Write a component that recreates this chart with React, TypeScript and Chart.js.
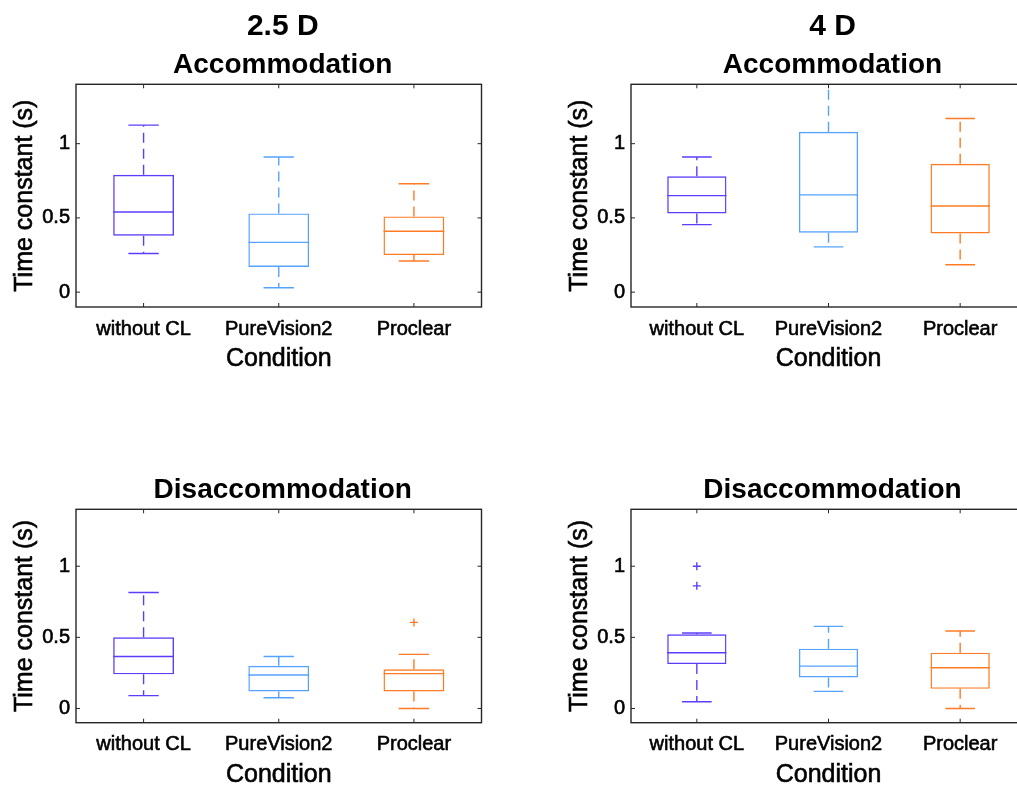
import React, { useEffect, useRef } from 'react';
import { Chart, registerables } from 'chart.js';

Chart.register(...registerables);

const FONT = '"Liberation Sans", Arial, Helvetica, sans-serif';

const categories = ['without CL', 'PureVision2', 'Proclear'];
const yTickValues = [0, 0.5, 1];
const yMin = -0.1;
const yMax = 1.4;
const xAxisLabel = 'Condition';
const yAxisLabel = 'Time constant (s)';
const boxColors = ['#5c3cff', '#55a3ff', '#ff7a24'];

// Accommodation, 2.5 D
const acc25Lower = [0.26, 0.03, 0.21];
const acc25Q1 = [0.38, 0.17, 0.25];
const acc25Median = [0.54, 0.335, 0.41];
const acc25Q3 = [0.79, 0.53, 0.51];
const acc25Upper = [1.125, 0.91, 0.73];
const acc25Outliers: number[][] = [[], [], []];

// Accommodation, 4 D
const acc4Lower = [0.455, 0.305, 0.185];
const acc4Q1 = [0.53, 0.4, 0.395];
const acc4Median = [0.65, 0.655, 0.58];
const acc4Q3 = [0.78, 1.08, 0.865];
const acc4Upper = [0.91, 1.55, 1.17];
const acc4Outliers: number[][] = [[], [], []];

// Disaccommodation, 2.5 D
const dis25Lower = [0.09, 0.075, 0.0];
const dis25Q1 = [0.24, 0.12, 0.12];
const dis25Median = [0.365, 0.235, 0.245];
const dis25Q3 = [0.5, 0.3, 0.275];
const dis25Upper = [0.815, 0.365, 0.38];
const dis25Outliers: number[][] = [[], [], [0.605]];

// Disaccommodation, 4 D
const dis4Lower = [0.047, 0.12, 0.0];
const dis4Q1 = [0.312, 0.218, 0.138];
const dis4Median = [0.392, 0.298, 0.286];
const dis4Q3 = [0.521, 0.42, 0.392];
const dis4Upper = [0.531, 0.577, 0.545];
const dis4Outliers: number[][] = [[1.0, 0.862], [], []];

const LINE_W = 1.4;
const Y_AXIS_W = 76;
const X_AXIS_H = 67;

type Stats = {
  lower: number[];
  q1: number[];
  median: number[];
  q3: number[];
  upper: number[];
  outliers: number[][];
};

type PanelSpec = {
  id: string;
  canvas: { x: number; y: number; w: number; h: number };
  area: { l: number; t: number; r: number; b: number };
  titles: string[];
  stats: Stats;
};

const panels: PanelSpec[] = [
  {
    id: 'acc25',
    canvas: { x: 0, y: 0, w: 508, h: 395 },
    area: { l: 76, t: 84.3, r: 481.5, b: 307 },
    titles: ['2.5 D', 'Accommodation'],
    stats: { lower: acc25Lower, q1: acc25Q1, median: acc25Median, q3: acc25Q3, upper: acc25Upper, outliers: acc25Outliers },
  },
  {
    id: 'acc4',
    canvas: { x: 555, y: 0, w: 490, h: 395 },
    area: { l: 631, t: 84.3, r: 1026, b: 307 },
    titles: ['4 D', 'Accommodation'],
    stats: { lower: acc4Lower, q1: acc4Q1, median: acc4Median, q3: acc4Q3, upper: acc4Upper, outliers: acc4Outliers },
  },
  {
    id: 'dis25',
    canvas: { x: 0, y: 395, w: 508, h: 410 },
    area: { l: 76, t: 509.3, r: 481.5, b: 722.7 },
    titles: ['Disaccommodation'],
    stats: { lower: dis25Lower, q1: dis25Q1, median: dis25Median, q3: dis25Q3, upper: dis25Upper, outliers: dis25Outliers },
  },
  {
    id: 'dis4',
    canvas: { x: 555, y: 395, w: 490, h: 410 },
    area: { l: 631, t: 509.3, r: 1026, b: 722.7 },
    titles: ['Disaccommodation'],
    stats: { lower: dis4Lower, q1: dis4Q1, median: dis4Median, q3: dis4Q3, upper: dis4Upper, outliers: dis4Outliers },
  },
];

function strokeLine(ctx: CanvasRenderingContext2D, x1: number, y1: number, x2: number, y2: number) {
  ctx.beginPath();
  ctx.moveTo(x1, y1);
  ctx.lineTo(x2, y2);
  ctx.stroke();
}

// Medians, whiskers and caps drawn over the box outlines
function boxPartsPlugin(stats: Stats) {
  return {
    id: 'boxParts',
    afterDatasetsDraw(chart: any) {
      const { ctx, chartArea: a, scales } = chart;
      const x = scales.x;
      const y = scales.y;
      const bars = chart.getDatasetMeta(0).data;
      ctx.save();
      ctx.beginPath();
      ctx.rect(a.left, a.top, a.right - a.left, a.bottom - a.top);
      ctx.clip();
      ctx.lineWidth = LINE_W;
      bars.forEach((bar: any, i: number) => {
        const cx = x.getPixelForValue(i);
        const half = bar.width / 2;
        const capHalf = half / 2;
        const yMed = y.getPixelForValue(stats.median[i]);
        const yQ1 = y.getPixelForValue(stats.q1[i]);
        const yQ3 = y.getPixelForValue(stats.q3[i]);
        const yLo = y.getPixelForValue(stats.lower[i]);
        const yHi = y.getPixelForValue(stats.upper[i]);
        ctx.strokeStyle = boxColors[i];
        ctx.setLineDash([]);
        strokeLine(ctx, cx - half, yMed, cx + half, yMed);
        strokeLine(ctx, cx - capHalf, yHi, cx + capHalf, yHi);
        strokeLine(ctx, cx - capHalf, yLo, cx + capHalf, yLo);
        ctx.setLineDash([10, 6]);
        strokeLine(ctx, cx, yQ3, cx, yHi);
        strokeLine(ctx, cx, yQ1, cx, yLo);
      });
      ctx.restore();
    },
  };
}

// Axes box with inward tick marks on all four sides
const framePlugin = {
  id: 'axesFrame',
  afterDraw(chart: any) {
    const { ctx, chartArea: a, scales } = chart;
    ctx.save();
    ctx.strokeStyle = '#262626';
    ctx.lineWidth = 1.4;
    ctx.strokeRect(a.left, a.top, a.right - a.left, a.bottom - a.top);
    ctx.lineWidth = 1;
    yTickValues.forEach((v) => {
      const py = scales.y.getPixelForValue(v);
      strokeLine(ctx, a.left, py, a.left + 4, py);
      strokeLine(ctx, a.right - 4, py, a.right, py);
    });
    categories.forEach((_, i) => {
      const px = scales.x.getPixelForValue(i);
      strokeLine(ctx, px, a.bottom, px, a.bottom - 4);
      strokeLine(ctx, px, a.top, px, a.top + 4);
    });
    ctx.restore();
  },
};

function heavyText(ctx: CanvasRenderingContext2D, text: string, x: number, y: number) {
  ctx.fillText(text, x, y);
  ctx.strokeText(text, x, y);
}

// Panel headings and axis labels around the plot area
function labelPlugin(titles: string[]) {
  return {
    id: 'panelLabels',
    afterDraw(chart: any) {
      const { ctx, chartArea: a } = chart;
      const mid = (a.left + a.right) / 2;
      ctx.save();
      ctx.fillStyle = '#000';
      ctx.strokeStyle = '#000';
      ctx.textAlign = 'center';
      ctx.textBaseline = 'alphabetic';
      const last = titles.length - 1;
      ctx.font = `bold 28px ${FONT}`;
      ctx.fillText(titles[last], mid + 4, a.top - 11);
      if (last > 0) {
        ctx.font = `bold 30px ${FONT}`;
        ctx.fillText(titles[0], mid + 4, a.top - 49.3);
      }
      ctx.font = `25px ${FONT}`;
      ctx.lineWidth = 0.6;
      ctx.textBaseline = 'middle';
      heavyText(ctx, xAxisLabel, mid, a.bottom + 52);
      ctx.translate(a.left - 50.5, (a.top + a.bottom) / 2);
      ctx.rotate(-Math.PI / 2);
      heavyText(ctx, yAxisLabel, 0, 0);
      ctx.restore();
    },
  };
}

function buildConfig(spec: PanelSpec): any {
  const { canvas, area, stats } = spec;
  const padding = {
    left: area.l - Y_AXIS_W - canvas.x,
    top: area.t - canvas.y,
    right: canvas.x + canvas.w - area.r,
    bottom: canvas.y + canvas.h - area.b - X_AXIS_H,
  };
  const outlierPoints: { x: string; y: number }[] = [];
  const outlierColors: string[] = [];
  stats.outliers.forEach((vals, i) =>
    vals.forEach((v) => {
      outlierPoints.push({ x: categories[i], y: v });
      outlierColors.push(boxColors[i]);
    })
  );
  return {
    type: 'bar',
    data: {
      labels: categories,
      datasets: [
        {
          type: 'bar',
          data: stats.q1.map((v, i) => [v, stats.q3[i]]),
          backgroundColor: 'rgba(0,0,0,0)',
          borderColor: boxColors,
          borderWidth: LINE_W,
          borderSkipped: false,
          barPercentage: 0.45,
          categoryPercentage: 1,
        },
        {
          type: 'line',
          data: outlierPoints,
          showLine: false,
          pointStyle: 'cross',
          pointRadius: 4,
          pointHoverRadius: 4,
          pointBorderWidth: LINE_W,
          pointBorderColor: outlierColors,
          pointBackgroundColor: outlierColors,
        },
      ],
    },
    options: {
      animation: false,
      responsive: false,
      devicePixelRatio: 1,
      layout: { padding },
      plugins: {
        legend: { display: false },
        tooltip: { enabled: false },
      },
      scales: {
        x: {
          type: 'category',
          offset: true,
          grid: { display: false, drawTicks: false },
          border: { display: false },
          ticks: {
            padding: 10,
            color: '#000',
            maxRotation: 0,
            autoSkip: false,
            textStrokeColor: '#000',
            textStrokeWidth: 0.6,
            font: { size: 20, family: FONT },
          },
          afterFit(scale: any) {
            scale.height = X_AXIS_H;
          },
        },
        y: {
          type: 'linear',
          min: yMin,
          max: yMax,
          grid: { display: false, drawTicks: false },
          border: { display: false },
          afterBuildTicks(scale: any) {
            scale.ticks = yTickValues.map((v) => ({ value: v }));
          },
          ticks: {
            padding: 6,
            color: '#000',
            textStrokeColor: '#000',
            textStrokeWidth: 0.6,
            font: { size: 20, family: FONT },
            callback: (v: number) => String(v),
          },
          afterFit(scale: any) {
            scale.width = Y_AXIS_W;
          },
        },
      },
    },
    plugins: [boxPartsPlugin(stats), framePlugin, labelPlugin(spec.titles)],
  };
}

function Panel({ spec }: { spec: PanelSpec }) {
  const ref = useRef<HTMLCanvasElement | null>(null);
  useEffect(() => {
    if (!ref.current) return;
    const chart = new Chart(ref.current, buildConfig(spec));
    return () => chart.destroy();
  }, [spec]);
  const { x, y, w, h } = spec.canvas;
  return (
    <canvas
      ref={ref}
      width={w}
      height={h}
      style={{ position: 'absolute', left: x, top: y, width: w, height: h }}
    />
  );
}

export default function App() {
  return (
    <div
      style={{
        position: 'fixed',
        left: 0,
        top: 0,
        width: 1017,
        height: 787,
        overflow: 'hidden',
        background: '#fff',
      }}
    >
      {panels.map((p) => (
        <Panel key={p.id} spec={p} />
      ))}
    </div>
  );
}
